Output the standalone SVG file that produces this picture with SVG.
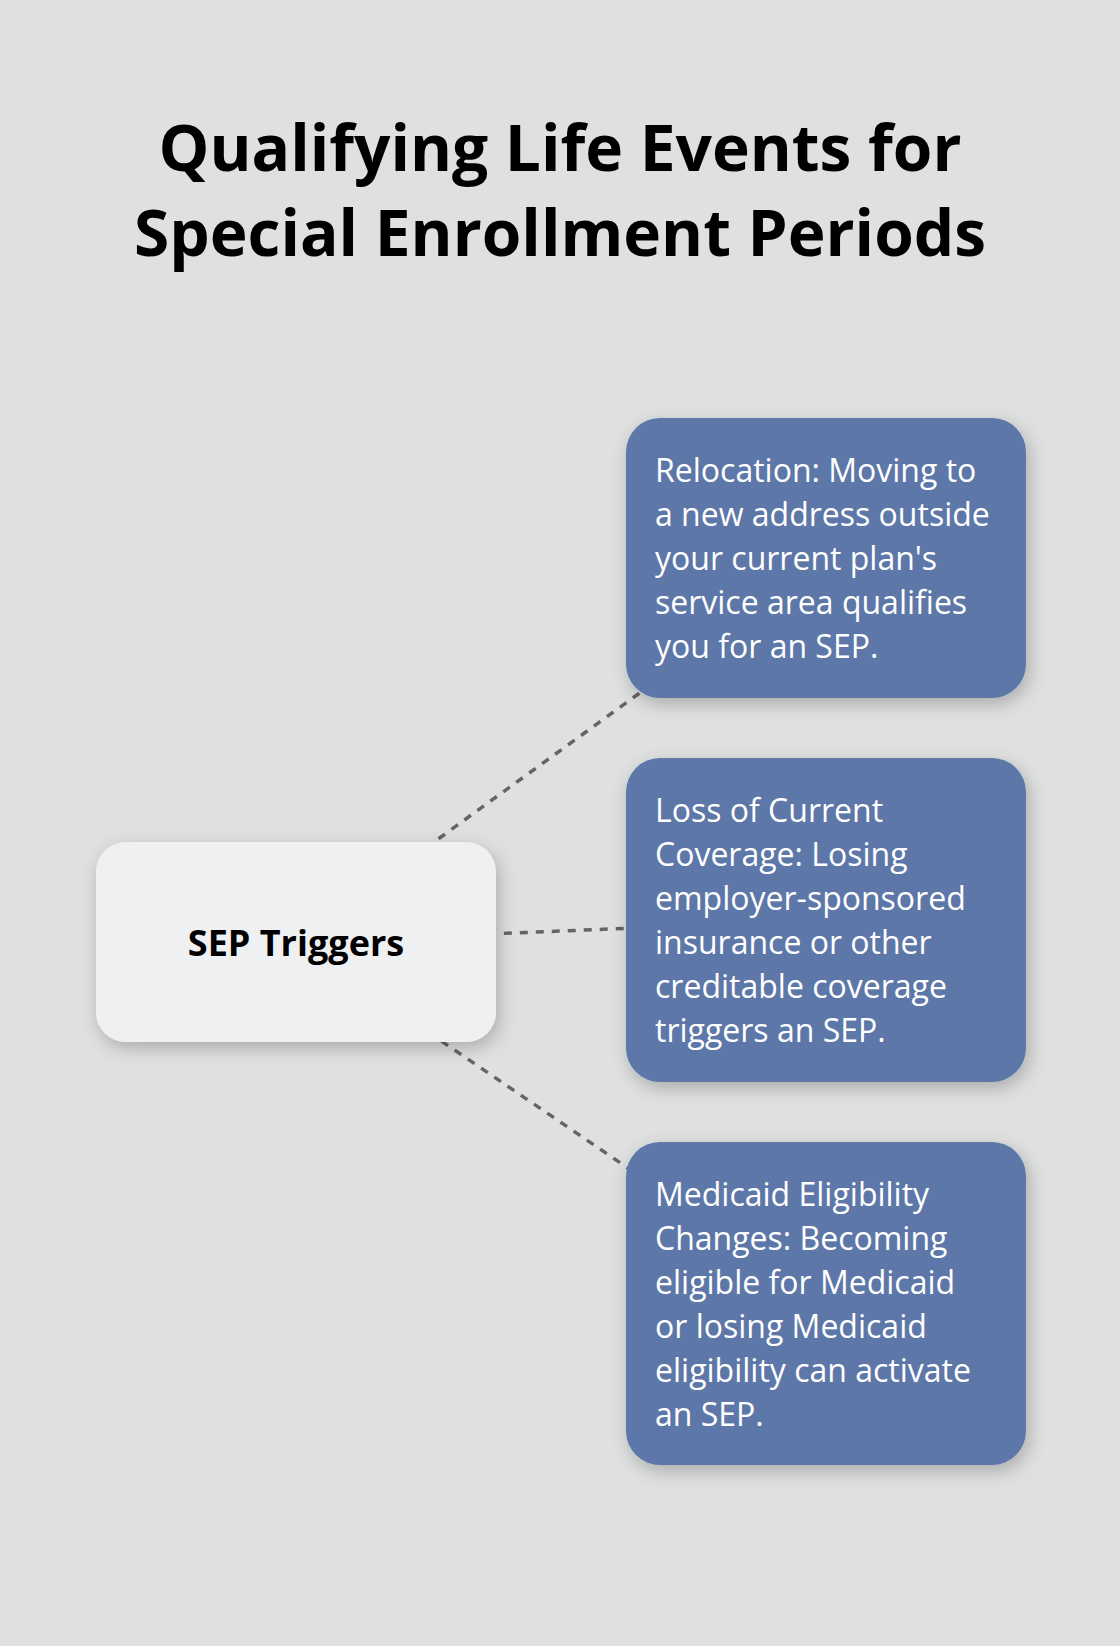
<svg xmlns="http://www.w3.org/2000/svg" width="1120" height="1646" viewBox="0 0 1120 1646">
<style>
.title{font-family:"Open Sans","Noto Sans",sans-serif;font-weight:700;font-size:64px;fill:#000;text-anchor:middle}
.hub{font-family:"Open Sans","Noto Sans",sans-serif;font-weight:700;font-size:36px;fill:#000;text-anchor:middle}
.leaf{font-family:"Open Sans","Noto Sans",sans-serif;font-size:32px;fill:#fff}
.conn{stroke:#646464;stroke-width:3.5;stroke-dasharray:8 8;fill:none}
.hubbox{fill:#eff0f2}
.leafbox{fill:#5d77a8}
</style>
<defs>
<filter id="sh" x="-20%" y="-20%" width="140%" height="150%">
<feDropShadow dx="3" dy="6" stdDeviation="9" flood-color="#000" flood-opacity="0.24"/>
</filter>
</defs>
<rect x="0" y="0" width="1120" height="1646" fill="#dfe1e0"/>
<g id="title">
<text class="title" x="560" y="171">Qualifying Life Events for</text>
<text class="title" x="560" y="256">Special Enrollment Periods</text>
</g>
<g id="connectors">
<line class="conn" x1="296" y1="942" x2="826" y2="558"/>
<line class="conn" x1="296" y1="942" x2="826" y2="920"/>
<line class="conn" x1="296" y1="942" x2="826" y2="1303"/>
</g>
<g id="node-sep">
<rect class="hubbox" x="96" y="842" width="400" height="200" rx="30" filter="url(#sh)"/>
<text class="hub" x="296" y="956">SEP Triggers</text>
</g>
<g id="node-relocation">
<rect class="leafbox" x="626" y="418" width="400" height="280" rx="34" filter="url(#sh)"/>
<text class="leaf" x="655" y="482">Relocation: Moving to</text>
<text class="leaf" x="655" y="526">a new address outside</text>
<text class="leaf" x="655" y="570">your current plan's</text>
<text class="leaf" x="655" y="614">service area qualifies</text>
<text class="leaf" x="655" y="658">you for an SEP.</text>
</g>
<g id="node-loss">
<rect class="leafbox" x="626" y="758" width="400" height="324" rx="34" filter="url(#sh)"/>
<text class="leaf" x="655" y="822">Loss of Current</text>
<text class="leaf" x="655" y="866">Coverage: Losing</text>
<text class="leaf" x="655" y="910">employer-sponsored</text>
<text class="leaf" x="655" y="954">insurance or other</text>
<text class="leaf" x="655" y="998">creditable coverage</text>
<text class="leaf" x="655" y="1042">triggers an SEP.</text>
</g>
<g id="node-medicaid">
<rect class="leafbox" x="626" y="1142" width="400" height="323" rx="34" filter="url(#sh)"/>
<text class="leaf" x="655" y="1206">Medicaid Eligibility</text>
<text class="leaf" x="655" y="1250">Changes: Becoming</text>
<text class="leaf" x="655" y="1294">eligible for Medicaid</text>
<text class="leaf" x="655" y="1338">or losing Medicaid</text>
<text class="leaf" x="655" y="1382">eligibility can activate</text>
<text class="leaf" x="655" y="1426">an SEP.</text>
</g>
</svg>
